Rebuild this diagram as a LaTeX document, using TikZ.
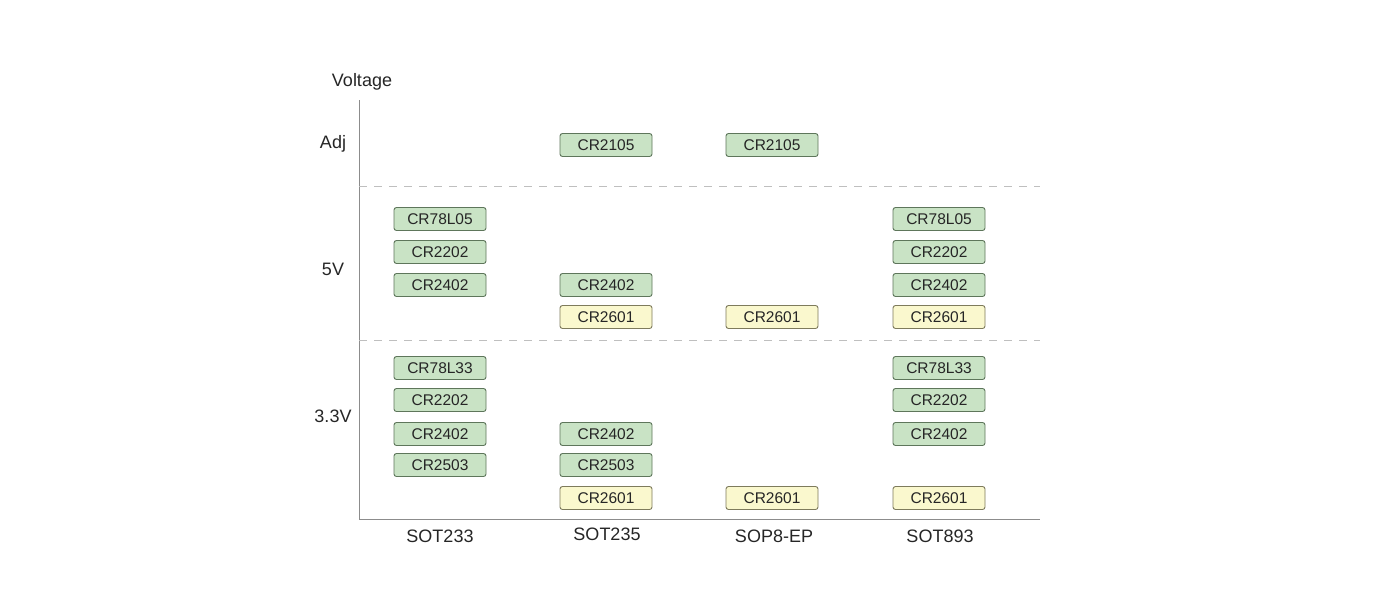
\documentclass[tikz,border=0pt]{standalone}
\usepackage{fontspec}
\setmainfont{Liberation Sans}
\usetikzlibrary{positioning}

\definecolor{chipgreen}{HTML}{C9E3C5}
\definecolor{chipgreenline}{HTML}{5E765B}
\definecolor{chipyellow}{HTML}{FAF8CE}
\definecolor{chipyellowline}{HTML}{7E7B5C}

\begin{document}
\begin{tikzpicture}[
        x=1pt, y=-1pt,
        axis/.style={draw=black!45, line width=1pt},
        band/.style={draw=black!25, dashed, dash pattern=on 8pt off 7pt, line width=0.8pt},
        axislabel/.style={font=\fontsize{18}{18}\selectfont\color{black!85}},
        chip/.style={draw=chipgreenline, fill=chipgreen, line width=0.9pt, rounded corners=2.5pt, minimum width=92pt, minimum height=23pt, inner sep=0pt, font=\fontsize{15.5}{15.5}\selectfont\color{black!85}},
        newchip/.style={chip, draw=chipyellowline, fill=chipyellow}
      ]

      \path[use as bounding box, fill=white] (0,0) rectangle (1400,600);

      % axes
      \coordinate (top) at (359,100);
      \coordinate (origin) at (359,519);
      \coordinate (right) at (1040,519);
      \draw[axis] (top) -- (origin) -- (right);
      \coordinate (adjline) at (359,186);
      \coordinate (adjend) at (1040,186);
      \coordinate (fiveline) at (359,340);
      \coordinate (fiveend) at (1040,340);
      \draw[band] (adjline) -- (adjend);
      \draw[band] (fiveline) -- (fiveend);

      \node (volt) [axislabel] at (362,82) {Voltage};
      \node (adj) [axislabel] at (333,144) {Adj};
      \node (five) [axislabel] at (333,269) {5V};
      \node (three) [axislabel] at (333,416) {3.3V};

      \node (sot233) [axislabel] at (440,536) {SOT233};
      \node (sot235) [axislabel] at (607,534) {SOT235};
      \node (sop8) [axislabel] at (774,536) {SOP8-EP};
      \node (sot893) [axislabel] at (940,536) {SOT893};

      % SOT233
      \node (a78l05) [chip] at (440,219) {CR78L05};
      \node (a2202) [chip] at (440,252) {CR2202};
      \node (a2402) [chip] at (440,285) {CR2402};
      \node (a78l33) [chip] at (440,368) {CR78L33};
      \node (a2202b) [chip] at (440,400) {CR2202};
      \node (a2402b) [chip] at (440,434) {CR2402};
      \node (a2503b) [chip] at (440,465) {CR2503};

      % SOT235
      \node (b2105) [chip] at (606,145) {CR2105};
      \node (b2402) [chip] at (606,285) {CR2402};
      \node (b2601) [newchip] at (606,317) {CR2601};
      \node (b2402b) [chip] at (606,434) {CR2402};
      \node (b2503b) [chip] at (606,465) {CR2503};
      \node (b2601b) [newchip] at (606,498) {CR2601};

      % SOP8-EP
      \node (c2105) [chip] at (772,145) {CR2105};
      \node (c2601) [newchip] at (772,317) {CR2601};
      \node (c2601b) [newchip] at (772,498) {CR2601};

      % SOT893
      \node (d78l05) [chip] at (939,219) {CR78L05};
      \node (d2202) [chip] at (939,252) {CR2202};
      \node (d2402) [chip] at (939,285) {CR2402};
      \node (d2601) [newchip] at (939,317) {CR2601};
      \node (d78l33) [chip] at (939,368) {CR78L33};
      \node (d2202b) [chip] at (939,400) {CR2202};
      \node (d2402b) [chip] at (939,434) {CR2402};
      \node (d2601b) [newchip] at (939,498) {CR2601};

    \end{tikzpicture}
\end{document}
